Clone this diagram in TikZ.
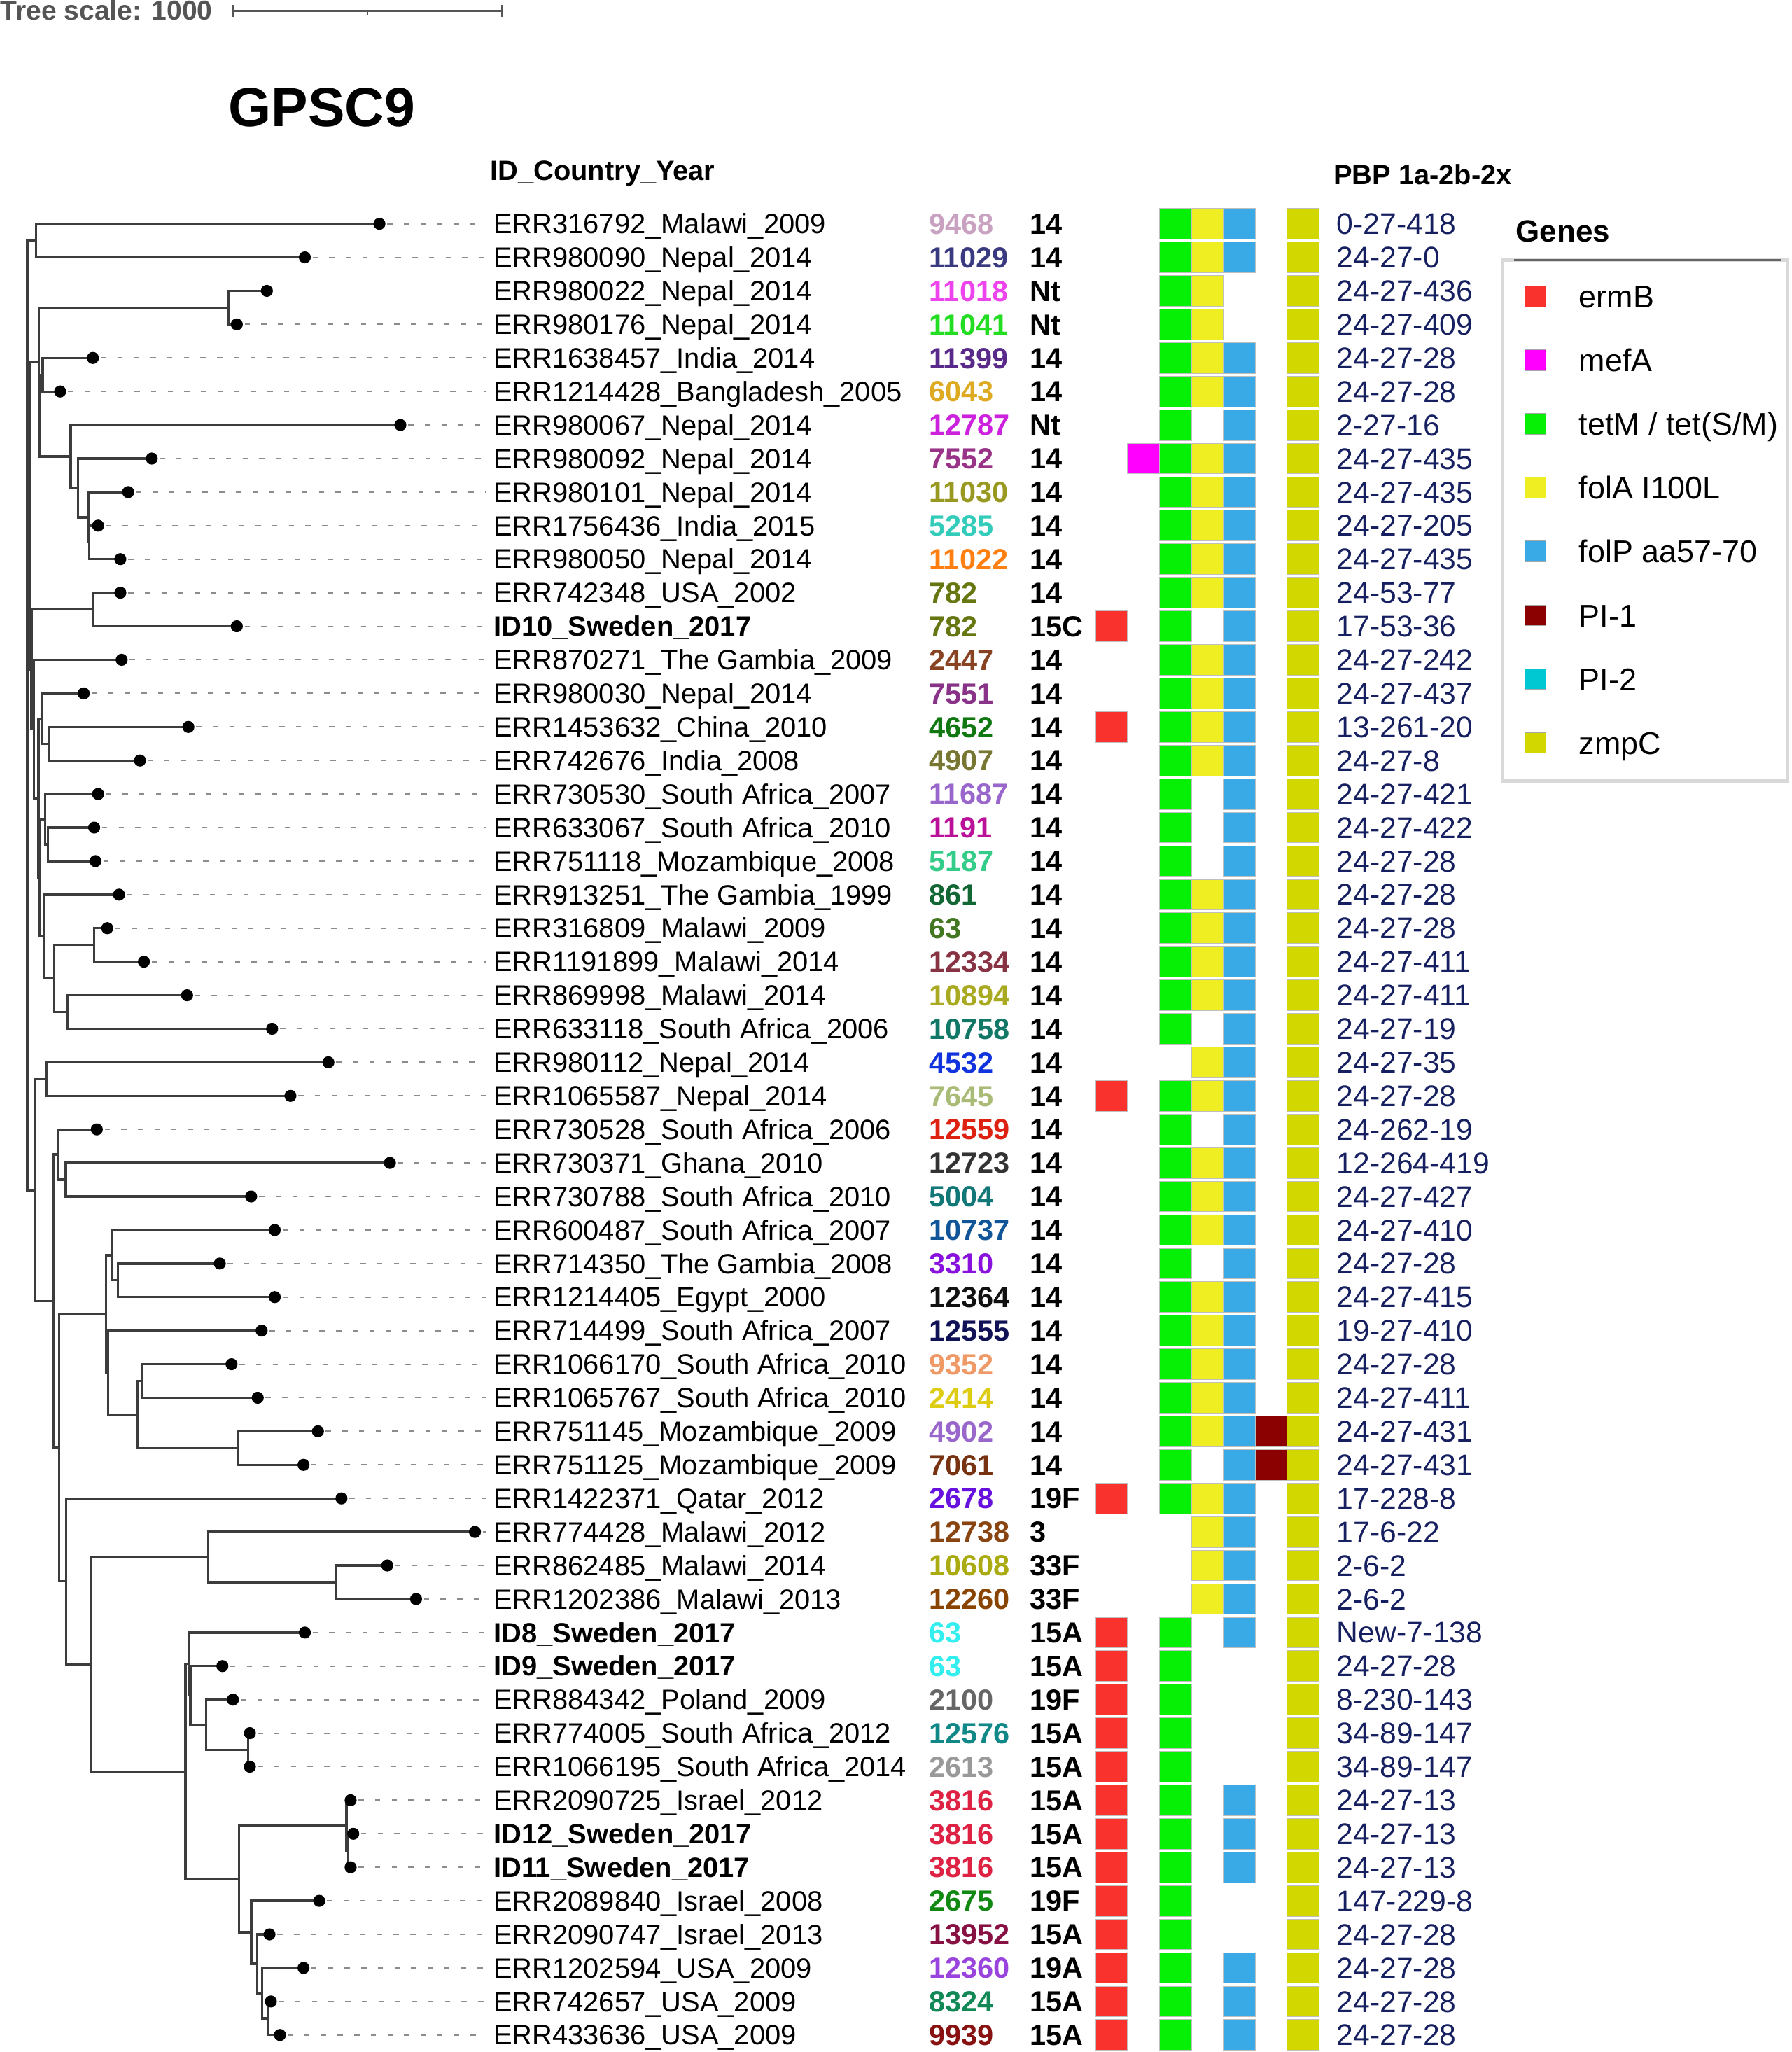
\documentclass[tikz,border=0pt]{standalone}
\usepackage{fontspec}
\setmainfont{Liberation Sans}
\usetikzlibrary{calc}
\definecolor{cErm}{RGB}{250,50,45}
\definecolor{cMef}{RGB}{255,0,255}
\definecolor{cTet}{RGB}{5,240,5}
\definecolor{cFolA}{RGB}{238,238,34}
\definecolor{cFolP}{RGB}{58,170,230}
\definecolor{cPIa}{RGB}{139,0,0}
\definecolor{cPIb}{RGB}{0,200,210}
\definecolor{cZmp}{RGB}{210,215,0}
\definecolor{cPBP}{RGB}{22,32,96}
\definecolor{cTree}{RGB}{60,60,60}
\definecolor{cScale}{RGB}{85,85,85}
\newcommand\fsz[1]{\fontsize{#1}{#1}\selectfont}
\newcommand\inode[4]{%
  \path let \p1=(#3), \p2=(#4) in (#2pt,{(\y1+\y2)/2}) coordinate (#1);
  \draw[branch] (#3) -| (#1) |- (#4);
}
\newcommand\cells[3]{%
  \foreach \rr in {#3}{\path[cellbox,fill=#2] (#1,{-171-(\rr-1)*25.63-11.7}) rectangle ++(24.4,23.4);}%
}
\begin{document}
\begin{tikzpicture}[x=1pt,y=1pt,
  branch/.style={draw=cTree,line width=1.8pt},
  leader/.style={draw=black!45,line width=1pt,dash pattern=on 4pt off 8.7pt},
  lab/.style={anchor=base west,inner sep=0pt,font=\fsz{21.35}},
  stx/.style={anchor=base west,inner sep=0pt,font=\fsz{22.2}\bfseries},
  pbpx/.style={anchor=base west,inner sep=0pt,font=\fsz{22.8},text=cPBP},
  head/.style={anchor=base west,inner sep=0pt,font=\fsz{21.3}\bfseries},
  legtxt/.style={anchor=base west,inner sep=0pt,font=\fsz{24}},
  legsq/.style={draw=black!35,line width=0.5pt,minimum size=16pt,inner sep=0pt},
  cellbox/.style={draw=black!25,line width=0.5pt}]
\useasboundingbox (0,0) rectangle (1369,-1568);
\fill[white] (0,0) rectangle (1369,-1568);
% headers
\node[anchor=base west,inner sep=0pt,font=\fsz{20.9}\bfseries,text=cScale] (scaletxt) at (0,-15) {Tree scale: 1000};
\coordinate (sbA) at (178.3,-8.4);
\coordinate (sbB) at (383.6,-8.4);
\coordinate (sbM) at (281,-8.4);
\draw[cScale,line width=1.3pt] (sbA) -- (sbB);
\draw[cScale,line width=1.3pt] ([yshift=4.5pt]sbA) -- ([yshift=-4.5pt]sbA);
\draw[cScale,line width=1.3pt] ([yshift=4.5pt]sbB) -- ([yshift=-4.5pt]sbB);
\draw[cScale,line width=1.3pt] (sbM) -- ([yshift=-3.5pt]sbM);
\node[anchor=base west,inner sep=0pt,font=\fsz{42.1}\bfseries] (title) at (174.5,-96.5) {GPSC9};
\node[head] (hid) at (374.6,-138) {ID\_Country\_Year};
\node[head] (hpbp) at (1019,-141) {PBP 1a-2b-2x};
\coordinate (dashend) at (372,0);
% leaves and columns
\foreach \r/\dx/\lab/\stn/\stc/\sero/\pbp in {
1/290/ERR316792\_Malawi\_2009/9468/C8A2C0/14/0-27-418,
2/233/ERR980090\_Nepal\_2014/11029/3A3A80/14/24-27-0,
3/204/ERR980022\_Nepal\_2014/11018/EE44EE/Nt/24-27-436,
4/181/ERR980176\_Nepal\_2014/11041/22DD22/Nt/24-27-409,
5/71/ERR1638457\_India\_2014/11399/5A2A8A/14/24-27-28,
6/46/ERR1214428\_Bangladesh\_2005/6043/DDAA22/14/24-27-28,
7/306/ERR980067\_Nepal\_2014/12787/CC22DD/Nt/2-27-16,
8/116/ERR980092\_Nepal\_2014/7552/993388/14/24-27-435,
9/98/ERR980101\_Nepal\_2014/11030/999922/14/24-27-435,
10/75/ERR1756436\_India\_2015/5285/33CCBB/14/24-27-205,
11/92/ERR980050\_Nepal\_2014/11022/FF7F11/14/24-27-435,
12/92/ERR742348\_USA\_2002/782/667711/14/24-53-77,
13/181/{\bfseries ID10\_Sweden\_2017}/782/667711/15C/17-53-36,
14/93/ERR870271\_The Gambia\_2009/2447/884422/14/24-27-242,
15/64/ERR980030\_Nepal\_2014/7551/883388/14/24-27-437,
16/144/ERR1453632\_China\_2010/4652/117711/14/13-261-20,
17/107/ERR742676\_India\_2008/4907/777733/14/24-27-8,
18/75/ERR730530\_South Africa\_2007/11687/9966CC/14/24-27-421,
19/72/ERR633067\_South Africa\_2010/1191/BB1199/14/24-27-422,
20/73/ERR751118\_Mozambique\_2008/5187/33CC88/14/24-27-28,
21/91/ERR913251\_The Gambia\_1999/861/116633/14/24-27-28,
22/82/ERR316809\_Malawi\_2009/63/447722/14/24-27-28,
23/110/ERR1191899\_Malawi\_2014/12334/883344/14/24-27-411,
24/143/ERR869998\_Malawi\_2014/10894/AAAA22/14/24-27-411,
25/208/ERR633118\_South Africa\_2006/10758/117766/14/24-27-19,
26/251/ERR980112\_Nepal\_2014/4532/1133DD/14/24-27-35,
27/222/ERR1065587\_Nepal\_2014/7645/AABB77/14/24-27-28,
28/74/ERR730528\_South Africa\_2006/12559/DD2211/14/24-262-19,
29/298/ERR730371\_Ghana\_2010/12723/333333/14/12-264-419,
30/192/ERR730788\_South Africa\_2010/5004/117777/14/24-27-427,
31/210/ERR600487\_South Africa\_2007/10737/115599/14/24-27-410,
32/168/ERR714350\_The Gambia\_2008/3310/8811DD/14/24-27-28,
33/210/ERR1214405\_Egypt\_2000/12364/111111/14/24-27-415,
34/200/ERR714499\_South Africa\_2007/12555/111155/14/19-27-410,
35/177/ERR1066170\_South Africa\_2010/9352/EE9966/14/24-27-28,
36/197/ERR1065767\_South Africa\_2010/2414/DDCC11/14/24-27-411,
37/243/ERR751145\_Mozambique\_2009/4902/9966CC/14/24-27-431,
38/232/ERR751125\_Mozambique\_2009/7061/773311/14/24-27-431,
39/261/ERR1422371\_Qatar\_2012/2678/6611DD/19F/17-228-8,
40/363/ERR774428\_Malawi\_2012/12738/884411/3/17-6-22,
41/296/ERR862485\_Malawi\_2014/10608/AAAA11/33F/2-6-2,
42/318/ERR1202386\_Malawi\_2013/12260/884400/33F/2-6-2,
43/233/{\bfseries ID8\_Sweden\_2017}/63/33EEEE/15A/New-7-138,
44/170/{\bfseries ID9\_Sweden\_2017}/63/33EEEE/15A/24-27-28,
45/178/ERR884342\_Poland\_2009/2100/666666/19F/8-230-143,
46/191/ERR774005\_South Africa\_2012/12576/118888/15A/34-89-147,
47/191/ERR1066195\_South Africa\_2014/2613/999999/15A/34-89-147,
48/268/ERR2090725\_Israel\_2012/3816/DD2244/15A/24-27-13,
49/270/{\bfseries ID12\_Sweden\_2017}/3816/DD2244/15A/24-27-13,
50/268/{\bfseries ID11\_Sweden\_2017}/3816/DD2244/15A/24-27-13,
51/244/ERR2089840\_Israel\_2008/2675/118811/19F/147-229-8,
52/206/ERR2090747\_Israel\_2013/13952/881144/15A/24-27-28,
53/232/ERR1202594\_USA\_2009/12360/9944DD/19A/24-27-28,
54/207/ERR742657\_USA\_2009/8324/118855/15A/24-27-28,
55/214/ERR433636\_USA\_2009/9939/881111/15A/24-27-28}{
  \pgfmathsetmacro\yy{171+(\r-1)*25.63}
  \coordinate (L\r) at (\dx,-\yy);
  \draw[leader] ([xshift=6pt]L\r) -- (L\r -| dashend);
  \node[lab] (lab\r) at (377,{-\yy-7.6}) {\lab};
  \node[stx] (st\r) at (709.8,{-\yy-7.9}) {\color[HTML]{\stc}\stn};
  \node[stx] (sero\r) at (787,{-\yy-7.9}) {\sero};
  \node[pbpx] (pbp\r) at (1021.5,{-\yy-8.1}) {\pbp};
}
% gene matrix
\cells{837.3}{cErm}{13,16,27,39}
\cells{837.3}{cErm}{43,...,55}
\cells{861.7}{cMef}{8}
\cells{886.1}{cTet}{1,...,25}
\cells{886.1}{cTet}{27,...,39}
\cells{886.1}{cTet}{43,...,55}
\cells{910.5}{cFolA}{1,2,3,4,5,6,8,9,10,11,12,14,15,16,17,21,22,23,24,26,27,29,30,31,33,34,35,36,37,39,40,41,42}
\cells{934.9}{cFolP}{1,2}
\cells{934.9}{cFolP}{5,...,43}
\cells{934.9}{cFolP}{48,49,50,53,54,55}
\cells{959.3}{cPIa}{37,38}
\cells{983.7}{cZmp}{1,...,55}
% tree
\inode{n12}{27.6}{L1}{L2}
\inode{n34}{174.4}{L3}{L4}
\inode{n56}{32.6}{L5}{L6}
\inode{nK}{68.3}{L10}{L11}
\inode{nJ}{67.6}{L9}{nK}
\inode{nI}{59.5}{L8}{nJ}
\inode{nH}{54.0}{L7}{nI}
\inode{nZ}{30.5}{n56}{nH}
\inode{nX}{29.8}{n34}{nZ}
\inode{nM}{71.3}{L12}{L13}
\inode{n150}{37.4}{L16}{L17}
\inode{n120}{32.1}{L15}{n150}
\inode{n145}{36.6}{L19}{L20}
\inode{nA}{34.4}{L18}{n145}
\inode{n343}{71.9}{L22}{L23}
\inode{n228}{51.4}{L24}{L25}
\inode{n172}{41.4}{n343}{n228}
\inode{n130}{33.9}{L21}{n172}
\inode{nQ}{30.2}{nA}{n130}
\inode{nR}{29.5}{n120}{nQ}
\inode{nP}{25.9}{L14}{nR}
\inode{nS}{24.1}{nM}{nP}
\inode{nN}{23.2}{nX}{nS}
\inode{n2627}{35.3}{L26}{L27}
\inode{n205}{50.2}{L29}{L30}
\inode{n180}{44.1}{L28}{n205}
\inode{n368}{90.2}{L32}{L33}
\inode{n350}{85.8}{L31}{n368}
\inode{n443}{108.5}{L35}{L36}
\inode{n743a}{182}{L37}{L38}
\inode{n428}{104.9}{n443}{n743a}
\inode{n337}{82.6}{L34}{n428}
\inode{n330}{80.9}{n350}{n337}
\inode{n1047}{256.5}{L41}{L42}
\inode{n650}{159.3}{L40}{n1047}
\inode{n772}{189.7}{L46}{L47}
\inode{n641}{157.5}{L45}{n772}
\inode{n592}{145.5}{L44}{n641}
\inode{n587}{144.2}{L43}{n592}
\inode{n1083}{266.1}{L49}{L50}
\inode{n1078}{264.9}{L48}{n1083}
\inode{n835}{205.2}{L54}{L55}
\inode{n815}{200.2}{L53}{n835}
\inode{n800}{196.6}{L52}{n815}
\inode{n782}{192.1}{L51}{n800}
\inode{n743}{182.6}{n1078}{n782}
\inode{n577}{141.8}{n587}{n743}
\inode{n283}{69.3}{n650}{n577}
\inode{n207}{50.5}{L39}{n283}
\inode{n185}{45.3}{n330}{n207}
\inode{n168}{41.2}{n180}{n185}
\inode{n108}{26.5}{n2627}{n168}
\path let \p1=(n12), \p2=(n108) in (20.8pt,{(\y1+\y2)/2}) coordinate (root);
\draw[branch] (n12) -| (root) |- (n108);
\draw[branch] (root |- nN) -- (nN);
\foreach \r in {1,...,55}{\fill[black] (L\r) circle[radius=4.6pt];}
% legend
\path[fill=white,draw=black!15,line width=2.5pt] (1148.6,-198.8) rectangle (1366.2,-596.6);
\draw[black!60,line width=1.2pt] (1157,-198.8) -- (1361,-198.8);
\node[anchor=base west,inner sep=0pt,font=\fsz{23.5}\bfseries] (legtitle) at (1158.4,-184.8) {Genes};
\node[legsq,fill=cErm] (sq1) at (1173.5,-226.7) {};
\node[legtxt] (lt1) at (1206.6,-235.3) {ermB};
\node[legsq,fill=cMef] (sq2) at (1173.5,-275.4) {};
\node[legtxt] (lt2) at (1206.6,-284.0) {mefA};
\node[legsq,fill=cTet] (sq3) at (1173.5,-324.1) {};
\node[legtxt] (lt3) at (1206.6,-332.7) {tetM / tet(S/M)};
\node[legsq,fill=cFolA] (sq4) at (1173.5,-372.8) {};
\node[legtxt] (lt4) at (1206.6,-381.4) {folA I100L};
\node[legsq,fill=cFolP] (sq5) at (1173.5,-421.5) {};
\node[legtxt] (lt5) at (1206.6,-430.1) {folP aa57-70};
\node[legsq,fill=cPIa] (sq6) at (1173.5,-470.2) {};
\node[legtxt] (lt6) at (1206.6,-478.8) {PI-1};
\node[legsq,fill=cPIb] (sq7) at (1173.5,-518.9) {};
\node[legtxt] (lt7) at (1206.6,-527.5) {PI-2};
\node[legsq,fill=cZmp] (sq8) at (1173.5,-567.6) {};
\node[legtxt] (lt8) at (1206.6,-576.2) {zmpC};
\end{tikzpicture}
\end{document}
